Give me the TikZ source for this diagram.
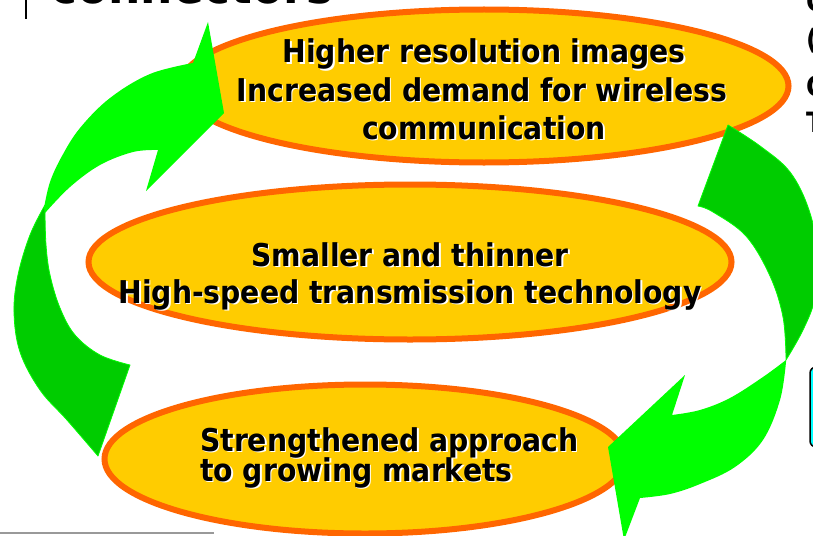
\documentclass[tikz,border=0pt]{standalone}
\usepackage{fontspec}
\setmainfont{DejaVu Sans}[FakeStretch=0.9]
\usetikzlibrary{shapes.geometric}
\definecolor{ellfill}{HTML}{FFCC00}
\definecolor{elledge}{HTML}{FF6600}
\definecolor{brightg}{HTML}{00FF00}
\definecolor{darkg}{HTML}{00CC00}
\definecolor{boxcyan}{HTML}{00FFFF}
\tikzset{
  ell/.style={ellipse, fill=ellfill, draw=elledge, line width=6pt, inner sep=0pt},
  txt/.style={font=\fontsize{31.4}{38}\selectfont\bfseries, inner sep=0pt, text=black},
  txtsh/.style={txt, text=white, xshift=1.5pt, yshift=-1.5pt},
  frag/.style={font=\fontsize{28}{34}\selectfont\bfseries, inner sep=0pt, text=black},
  darkarrow/.style={fill=darkg, draw=brightg, line width=0.8pt, line join=round},
  brightarrow/.style={fill=brightg},
}
\newcommand\stxt[4]{%
  \node[txtsh, anchor=#3] (#1s) at (#2) {#4};
  \node[txt, anchor=#3] (#1) at (#2) {#4};}
\begin{document}
\begin{tikzpicture}[x=1pt, y=-1pt]
\useasboundingbox (0,0) rectangle (813,535);
\clip (0,0) rectangle (813,535);
\fill[white] (0,0) rectangle (813,535);

% fragments of the surrounding slide
\node[font=\fontsize{50.5}{60}\selectfont\bfseries, inner sep=0pt, anchor=base west] (title) at (50,4) {connectors};
\coordinate (vl1) at (26,0);
\coordinate (vl2) at (26,19);
\draw[line width=1.3pt] (vl1) -- (vl2);
\node[frag, anchor=base west] (f1) at (806,12) {C};
\node[frag, anchor=base west] (f2) at (806,49) {(};
\node[frag, anchor=base west] (f3) at (806,96) {C};
\node[frag, anchor=base west] (f4) at (806,132) {T};
\coordinate (gl1) at (0,533);
\coordinate (gl2) at (214,533);
\draw[gray!80, line width=1.5pt] (gl1) -- (gl2);
\draw[boxcyan, fill=boxcyan, draw=black, line width=1.5pt, rounded corners=6pt] (810,367) rectangle (840,447);

% ellipses
\node[ell, minimum width=609pt, minimum height=153pt] (top) at (484,86) {};
\node[ell, minimum width=643pt, minimum height=155pt] (mid) at (410,262) {};
\node[ell, minimum width=521pt, minimum height=149pt] (bot) at (365,459) {};

% texts
\stxt{t1}{484,63}{base}{Higher resolution images}
\stxt{t2}{482,101}{base}{Increased demand for wireless}
\stxt{t3}{484,139}{base}{communication}
\stxt{m1}{410,266}{base}{Smaller and thinner}
\stxt{m2}{410,303}{base}{High-speed transmission technology}
\stxt{b1}{200,451}{base west}{Strengthened approach}
\stxt{b2}{200,481}{base west}{to growing markets}

% left curved arrow: back (tail) part
\filldraw[darkarrow] plot[smooth, tension=0.6] coordinates {(45,205) (30,235) (18,275) (14,312) (20,352) (40,390) (67,420) (98,456)}
  -- (130,365)
  -- plot[smooth, tension=0.6] coordinates {(130,365) (100,355) (75,335) (60,308) (50,275) (46,245) (45,213)} -- cycle;
% left curved arrow: front part with head
\fill[brightarrow] plot[smooth, tension=0.6] coordinates {(44,208) (50,182) (62,156) (80,128) (110,98) (150,74) (193,63)}
  -- (208,22) -- (224,113) -- (146,191) -- (158,150)
  -- plot[smooth, tension=0.6] coordinates {(158,150) (133,152) (100,165) (70,187) (45,213)} -- cycle;

% right curved arrow: back (tail) part
\filldraw[darkarrow] (728,125) -- (698,206)
  -- plot[smooth, tension=0.6] coordinates {(698,206) (713,212) (746,236) (770,276) (783,317) (786,358)}
  -- plot[smooth, tension=0.6] coordinates {(786,360) (803,330) (815,298) (818,255) (809,210) (790,172) (760,146) (728,125)} -- cycle;
% right curved arrow: front part with head
\fill[brightarrow] plot[smooth, tension=0.6] coordinates {(786,360) (763,377) (730,398) (700,410) (672,415)}
  -- (685,375) -- (608,447) -- (624,540) -- (640,498)
  -- plot[smooth, tension=0.6] coordinates {(640,498) (670,494) (700,484) (735,467) (763,440) (780,400) (786,362)} -- cycle;
\end{tikzpicture}
\end{document}
